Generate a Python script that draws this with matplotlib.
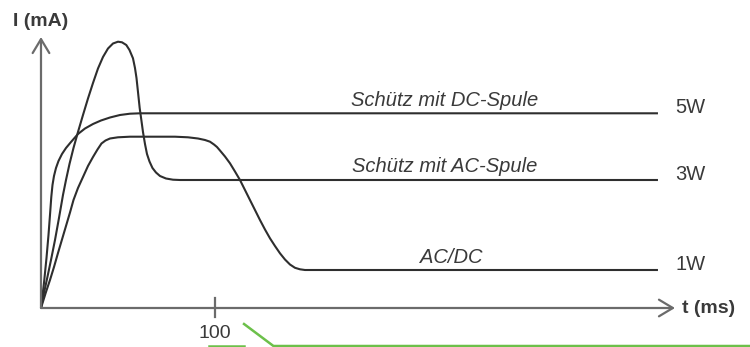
import matplotlib
matplotlib.use("Agg")
import matplotlib.pyplot as plt

# Einschaltstrom verschiedener Schütze
t_dc = [0, 1.72, 3.16, 4.31, 5.17, 5.92, 6.61, 7.47, 8.62, 10.06, 12.07, 14.37, 17.24,
        21.26, 25.29, 29.89, 34.48, 39.66, 45.4, 51.15, 56.9, 354.6]
i_dc = [0, 25, 50, 73, 93, 111, 123, 132, 140, 147, 154, 160, 166,
        174, 179.5, 184, 187.5, 190.5, 193, 194.3, 194.7, 194.7]

t_ac = [0, 1.72, 3.45, 5.75, 8.05, 10.34, 12.64, 14.37, 16.38, 18.68, 21.26, 24.14, 27.01,
        29.89, 32.76, 35.63, 38.51, 41.38, 44.25, 46.55, 49.02, 50.86, 52.87, 54.02, 54.89,
        55.75, 56.72, 57.76, 58.62, 59.77, 60.92, 62.36, 64.08, 66.09, 68.39, 71.84, 75.86,
        79.89, 354.6]
i_ac = [0, 15, 29, 48, 68, 90, 113, 128, 144, 160, 176, 193, 209.5,
        225, 239.5, 251, 259.5, 264.5, 266.3, 265.7, 263, 258, 249.7, 240, 230,
        216, 200, 187, 176, 164, 154, 146.5, 140, 135.5, 132, 129.5, 128.3,
        128, 128]

t_acdc = [0, 2.87, 5.17, 7.47, 9.77, 12.07, 14.37, 16.67, 18.68, 21.26, 24.14, 27.01, 29.89,
          32.47, 34.77, 37.07, 39.66, 44.25, 51.15, 77.01, 84.48, 90.23, 94.25, 97.13, 99.43,
          101.15, 102.87, 105.75, 108.62, 111.49, 114.37, 117.24, 120.11, 122.99, 125.86,
          128.74, 131.61, 134.48, 137.36, 140.23, 143.1, 145.98, 148.85, 151.72, 154.6, 354.6]
i_acdc = [0, 16, 28, 41, 55, 68.5, 82, 95.5, 108, 120, 131, 142, 151,
          158.5, 164.5, 167.5, 169.5, 170.7, 171.3, 171.3, 170.7, 169.5, 168, 166.3, 163.5,
          161, 157.5, 151.5, 144.7, 136.5, 128, 118, 108, 98, 88,
          78.5, 69.7, 62, 54.7, 48.5, 43.5, 40.2, 38.7, 38, 38, 38]

curve_labels = ["Schütz mit DC-Spule", "Schütz mit AC-Spule", "AC/DC"]
power_labels = ["5W", "3W", "1W"]
tick_value = 100

# gruene Zierlinie am unteren Rand (zwei Stuecke)
green_a_t = [96.6, 116.7]
green_a_i = [-38, -38]
green_b_t = [116.7, 133.6, 407.5]
green_b_i = [-16, -38, -38]

AXIS = "#6b6b6b"
LINE = "#2e2e2e"
TEXT = "#3a3a3a"
GREEN = "#6cc04a"
FONT = ["Liberation Sans", "DejaVu Sans"]

fig = plt.figure(figsize=(7.5, 3.47), dpi=100)
ax = fig.add_axes([0, 0, 1, 1])
ax.set_xlim(-23.56, 407.5)
ax.set_ylim(-39, 308)
ax.axis("off")

# Achsen mit offenen Pfeilspitzen
arrow = dict(arrowstyle="->,head_length=1.0,head_width=0.6", color=AXIS,
             lw=1.6, mutation_scale=10, shrinkA=0, shrinkB=0)
ax.annotate("", xy=(364.4, 0), xytext=(0, 0), arrowprops=arrow)
ax.annotate("", xy=(0, 271), xytext=(0, 0), arrowprops=arrow)
ax.plot([tick_value, tick_value], [-9, 10], color=AXIS, lw=1.6)

for t, i in [(t_dc, i_dc), (t_ac, i_ac), (t_acdc, i_acdc)]:
    ax.plot(t, i, color=LINE, lw=1.5, solid_capstyle="butt", solid_joinstyle="round")

ax.plot(green_a_t, green_a_i, color=GREEN, lw=1.8)
ax.plot(green_b_t, green_b_i, color=GREEN, lw=1.8)

ax.text(tick_value, -25, str(tick_value), ha="center", va="center",
        fontsize=14, color=TEXT, family=FONT)
ax.text(368.5, -5, "t (ms)", ha="left", va="baseline", fontsize=14,
        fontweight="bold", color=TEXT, family=FONT)
ax.text(-16.3, 282, "I (mA)", ha="left", va="baseline", fontsize=14,
        fontweight="bold", color=TEXT, family=FONT)

label_pos = [(232.2, 202), (232.2, 136), (235.8, 45.3)]
for txt, (x, y) in zip(curve_labels, label_pos):
    ax.text(x, y, txt, ha="center", va="baseline", fontsize=14.5,
            style="italic", color=TEXT, family=FONT)

for txt, lvl in zip(power_labels, [i_dc[-1], i_ac[-1], i_acdc[-1]]):
    ax.text(364.4, lvl, txt, ha="left", va="baseline", fontsize=14.5,
            color=TEXT, family=FONT)

fig.savefig("out.png", dpi=100, facecolor="white")
plt.close(fig)
